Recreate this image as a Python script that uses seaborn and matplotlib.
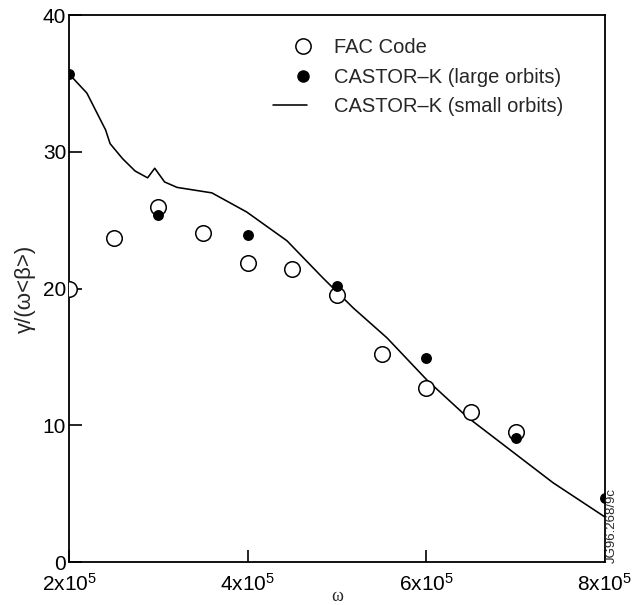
import matplotlib
matplotlib.use("Agg")
import matplotlib.pyplot as plt
import seaborn as sns
import pandas as pd
from matplotlib.lines import Line2D
from matplotlib.legend_handler import HandlerLine2DCompound

# FAC code growth rates (open circles)
fac_omega = [2.0e5, 2.5e5, 3.0e5, 3.5e5, 4.0e5, 4.5e5, 5.0e5, 5.5e5, 6.0e5, 6.5e5, 7.0e5]
fac_gamma = [20.0, 23.7, 26.0, 24.1, 21.9, 21.4, 19.5, 15.2, 12.7, 11.0, 9.5]

# CASTOR-K with large orbits (filled dots)
large_omega = [2.0e5, 3.0e5, 4.0e5, 5.0e5, 6.0e5, 7.0e5, 8.0e5]
large_gamma = [35.7, 25.4, 23.9, 20.2, 14.9, 9.1, 4.7]

# CASTOR-K with small orbits (solid curve)
small_omega = [2.00e5, 2.20e5, 2.41e5, 2.46e5, 2.60e5, 2.74e5, 2.88e5, 2.96e5,
               3.07e5, 3.21e5, 3.60e5, 3.99e5, 4.44e5, 4.84e5, 5.18e5, 5.56e5,
               6.01e5, 6.46e5, 6.90e5, 7.42e5, 8.00e5]
small_gamma = [35.7, 34.3, 31.6, 30.6, 29.5, 28.6, 28.1, 28.8,
               27.8, 27.4, 27.0, 25.6, 23.5, 20.8, 18.6, 16.4,
               13.3, 10.6, 8.4, 5.8, 3.3]

x_ticks = [2e5, 4e5, 6e5, 8e5]
x_tick_labels = ["2x10$^{5}$", "4x10$^{5}$", "6x10$^{5}$", "8x10$^{5}$"]
y_ticks = [0, 10, 20, 30, 40]


class RightMarkerHandler(HandlerLine2DCompound):
    """Legend handler that puts the marker near the right end of the handle."""

    def get_xdata(self, legend, xdescent, ydescent, width, height, fontsize):
        xdata, _ = super().get_xdata(legend, xdescent, ydescent, width, height,
                                     fontsize)
        return xdata, [-xdescent + 0.88 * width]


sns.set_style("ticks")
plt.rcParams["font.family"] = ["Liberation Sans", "DejaVu Sans"]
plt.rcParams["mathtext.fontset"] = "custom"
plt.rcParams["mathtext.rm"] = "Liberation Sans"
plt.rcParams["mathtext.it"] = "Liberation Sans"

fig = plt.figure(figsize=(6.36, 6.05), dpi=100)
ax = fig.add_axes([0.1085, 0.071, 0.8425, 0.904])

df_small = pd.DataFrame({"omega": small_omega, "gamma": small_gamma})
df_fac = pd.DataFrame({"omega": fac_omega, "gamma": fac_gamma})
df_large = pd.DataFrame({"omega": large_omega, "gamma": large_gamma})

sns.lineplot(data=df_small, x="omega", y="gamma", ax=ax, color="black",
             linewidth=1.15, sort=False, legend=False)
sns.scatterplot(data=df_fac, x="omega", y="gamma", ax=ax, marker="o",
                s=125, facecolor="white", edgecolor="black", linewidth=1.1,
                legend=False, zorder=3)
sns.scatterplot(data=df_large, x="omega", y="gamma", ax=ax, marker="o",
                s=62, color="black", edgecolor="black", linewidth=0,
                legend=False, zorder=4)

ax.set_xlim(2e5, 8e5)
ax.set_ylim(0, 40)
ax.set_xticks(x_ticks)
ax.set_xticklabels(x_tick_labels)
ax.set_yticks(y_ticks)
ax.tick_params(axis="both", direction="in", length=9, width=1.2,
               labelsize=15, colors="black")
ax.tick_params(axis="y", pad=2)
ax.tick_params(axis="x", pad=8)
for side in ["left", "bottom", "top", "right"]:
    ax.spines[side].set_visible(True)
    ax.spines[side].set_linewidth(1.3)
    ax.spines[side].set_color("black")

ax.set_xlabel("ω", family=["Liberation Serif", "DejaVu Serif"], fontsize=13,
              labelpad=-5)
ax.set_ylabel("γ/(ω<β>)", fontsize=16, labelpad=5)

marker_handler = RightMarkerHandler(numpoints=1)
handles = [
    Line2D([], [], linestyle="none", marker="o", markersize=11,
           markerfacecolor="white", markeredgecolor="black", markeredgewidth=1.1),
    Line2D([], [], linestyle="none", marker="o", markersize=8,
           markerfacecolor="black", markeredgecolor="black"),
    Line2D([], [], color="black", linewidth=1.15),
]
labels = ["FAC Code", "CASTOR–K (large orbits)", "CASTOR–K (small orbits)"]
ax.legend(handles, labels, loc="upper left", bbox_to_anchor=(0.381, 0.958),
          frameon=False, fontsize=14.5, handlelength=1.7, handletextpad=1.3,
          labelspacing=0.52, borderpad=0, borderaxespad=0,
          handler_map={handles[0]: marker_handler, handles[1]: marker_handler})

fig.text(0.962, 0.1306, "JG96.268/9c", rotation=90, fontsize=9.5,
         ha="center", va="center")

fig.savefig("out.png", dpi=100)
